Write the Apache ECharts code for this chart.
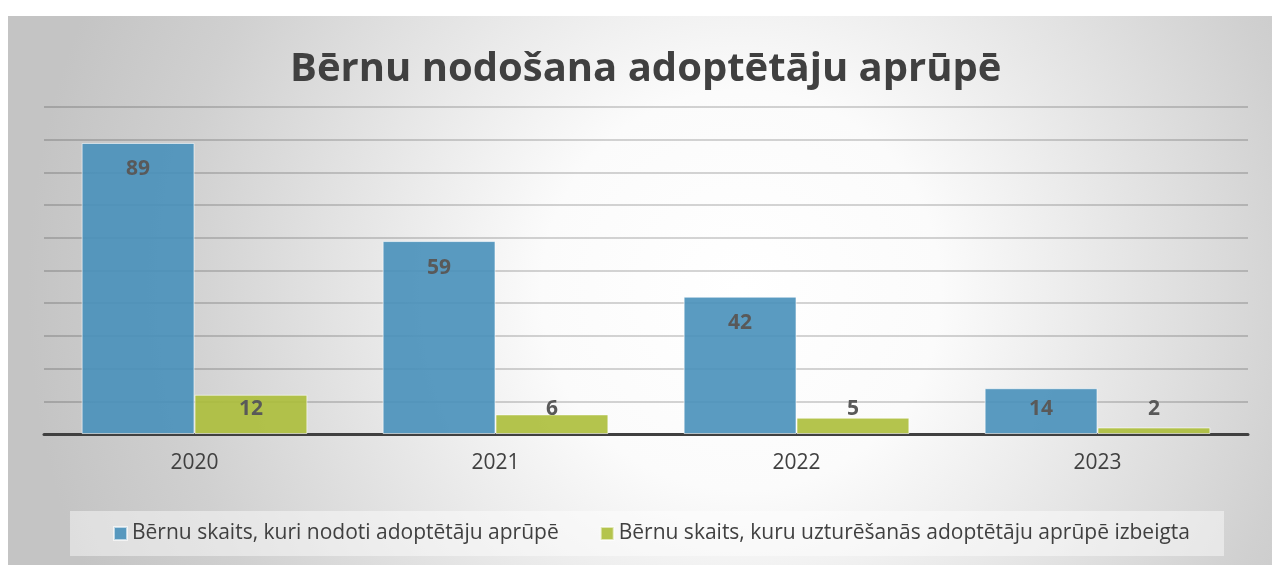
<!DOCTYPE html>
<html>
<head>
<meta charset="utf-8">
<script src="https://cdn.jsdelivr.net/npm/echarts@6/dist/echarts.min.js"></script>
<style>
  html, body { margin: 0; padding: 0; background: #ffffff; }
  #chart { position: absolute; left: 8px; top: 16px; width: 1264px; height: 549px; }
</style>
</head>
<body>
<div id="chart"></div>
<script>
// chart data
var years = ['2020', '2021', '2022', '2023'];
var placed = [89, 59, 42, 14];
var ended = [12, 6, 5, 2];
var seriesNames = [
  'Bērnu skaits, kuri nodoti adoptētāju aprūpē',
  'Bērnu skaits, kuru uzturēšanās adoptētāju aprūpē izbeigta'
];

var FONT = '"Open Sans", sans-serif';

// Excel style: label inside the top, short bars get it floated near the base
function withLabels(values) {
  return values.map(function (v) {
    var tall = v > 20;
    return {
      value: v,
      label: {
        position: tall ? 'insideTop' : 'insideBottom',
        distance: tall ? 16 : 14
      }
    };
  });
}

function barSeries(name, values, color) {
  return {
    name: name,
    type: 'bar',
    barGap: '0%',
    barCategoryGap: '25%',
    data: withLabels(values),
    itemStyle: {
      color: color,
      borderColor: 'rgba(255,255,255,0.6)',
      borderWidth: 1
    },
    label: {
      show: true,
      fontFamily: FONT,
      fontSize: 21,
      fontWeight: 'bold',
      color: '#595959'
    }
  };
}

var chart = echarts.init(document.getElementById('chart'));
chart.setOption({
  backgroundColor: {
    type: 'radial', x: 0.58, y: 0.5, r: 1.3,
    colorStops: [
      { offset: 0, color: '#ffffff' },
      { offset: 0.28, color: '#fbfbfb' },
      { offset: 0.8, color: '#d0d0d0' },
      { offset: 1, color: '#c4c4c4' }
    ]
  },
  animation: false,
  title: {
    text: 'Bērnu nodošana adoptētāju aprūpē',
    left: 277,
    top: 29,
    textStyle: { fontFamily: FONT, fontSize: 40, fontWeight: 'bold', color: '#404040' }
  },
  legend: {
    bottom: 9,
    left: 62,
    itemWidth: 13,
    itemHeight: 13,
    itemGap: 41,
    icon: 'rect',
    padding: [12, 34, 12, 43],
    backgroundColor: 'rgba(255,255,255,0.45)',
    textStyle: { fontFamily: FONT, fontSize: 21, color: '#404040' },
    data: seriesNames
  },
  grid: { left: 36, right: 24, top: 91, bottom: 131 },
  xAxis: {
    type: 'category',
    data: years,
    axisLine: { lineStyle: { color: '#404040', width: 3 } },
    axisTick: { show: false },
    axisLabel: { fontFamily: FONT, fontSize: 21, color: '#404040', margin: 19 }
  },
  yAxis: {
    type: 'value',
    min: 0,
    max: 100,
    interval: 10,
    axisLabel: { show: false },
    axisLine: { show: false },
    axisTick: { show: false },
    splitLine: { lineStyle: { color: 'rgba(0,0,0,0.22)', width: 1.5 } }
  },
  series: [
    barSeries(seriesNames[0], placed, 'rgba(72,144,186,0.9)'),
    barSeries(seriesNames[1], ended, 'rgba(172,190,58,0.9)')
  ]
});
</script>
</body>
</html>
